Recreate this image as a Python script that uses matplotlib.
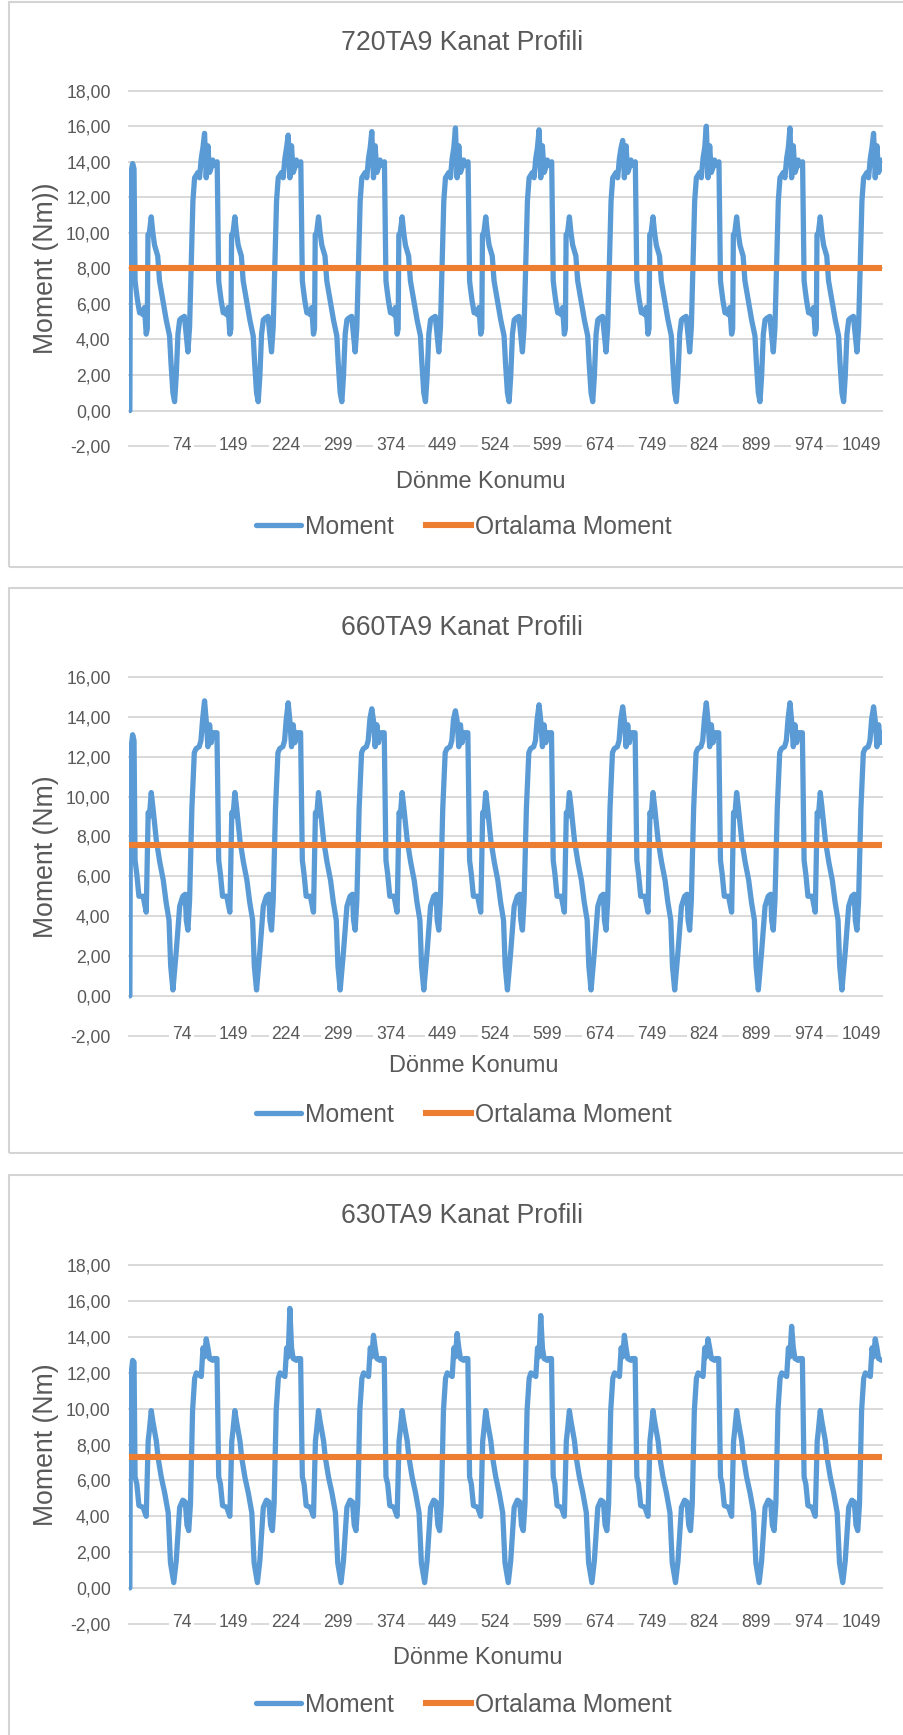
import numpy as np
import matplotlib
matplotlib.use("Agg")
import matplotlib.pyplot as plt
from matplotlib.patches import Rectangle

# ---------------- data ----------------
N_POS = 1080          # number of rotation positions (categories 0..1079)
CYCLE = 120           # positions per blade passage (one cycle of the curve)
XTICK_LABELS = [74, 149, 224, 299, 374, 449, 524, 599, 674, 749, 824, 899, 974, 1049]

START_X = [0, 1, 2, 4, 6]

# 720TA9
START_720 = [0.0, 12.0, 13.5, 13.9, 13.6]
PHASE_720 = [0, 5.3, 7.5, 9, 11, 14, 16, 18.7, 21, 23.5, 25, 26, 28, 30.7, 33, 35.5, 40,
             42.6, 47.4, 52.2, 57, 59, 61.8, 64.2, 66.5, 69, 71.5, 74, 78.3, 80.8, 83.3,
             85.7, 88, 90.5, 92.9, 97.7, 100, 102.5, 104.9, 107.2, 109.6, 112, 114.4, 117, 119]
LEVEL_720 = [13.8, 14.0, 7.3, 6.8, 6.2, 5.5, 5.6, 5.4, 5.8, 4.3, 4.6, 9.9, 10.0, 10.9, 10.0,
             9.3, 8.7, 7.3, 6.2, 5.1, 4.2, 2.7, 1.0, 0.5, 1.9, 4.3, 5.1, 5.2, 5.3, 4.3, 3.3,
             4.7, 8.1, 11.8, 13.1, 13.4, 13.1, 14.2, 14.8, 15.6, 13.1, 14.9, 13.4, 13.7, 14.1]
SPIKE_IDX_720 = 39
SPIKE_720 = [15.6, 15.5, 15.7, 15.9, 15.8, 15.2, 16.0, 15.9, 15.6]
AVG_720 = 8.05

# 660TA9
START_660 = [0.0, 11.5, 12.5, 13.1, 12.8]
PHASE_660 = [0, 5, 7.5, 10, 13, 19, 23.5, 26.3, 28, 30.7, 33, 38, 43, 48, 52, 56.2, 58.6,
             61.8, 66.5, 71.5, 76, 79.5, 81, 83.3, 85.7, 89, 92.5, 95, 99.5, 102, 104.5,
             107.2, 109.6, 112, 114.4, 116.8, 119]
LEVEL_660 = [13.2, 13.2, 6.8, 6.1, 5.0, 5.0, 4.2, 9.2, 9.0, 10.2, 9.5, 7.8, 6.7, 5.8, 4.7,
             3.8, 1.5, 0.3, 2.2, 4.5, 5.0, 5.1, 3.8, 3.3, 4.8, 9.4, 12.2, 12.4, 12.5, 12.8,
             13.9, 14.7, 13.8, 12.5, 13.6, 12.7, 13.2]
SPIKE_IDX_660 = 31
SPIKE_660 = [14.8, 14.7, 14.4, 14.3, 14.6, 14.5, 14.7, 14.7, 14.5]
AVG_660 = 7.55

# 630TA9
START_630 = [0.0, 12.1, 12.0, 12.7, 12.6]
PHASE_630 = [0, 5, 7.5, 10, 13, 19, 23.5, 26.3, 28, 30.7, 33, 38, 40.4, 45, 50, 55, 58.3,
             63, 66.5, 71.5, 76, 79.5, 82, 84.5, 87, 90, 93, 95.5, 102.5, 105, 107.2, 109.6,
             112, 114.4, 119]
LEVEL_630 = [12.8, 12.8, 6.2, 5.8, 4.6, 4.5, 4.0, 8.2, 8.8, 9.9, 9.3, 8.2, 7.3, 6.2, 5.3,
             4.2, 1.4, 0.3, 1.5, 4.5, 4.9, 4.8, 3.5, 3.2, 4.7, 9.9, 11.7, 12.0, 11.8, 13.4,
             12.9, 15.7, 13.4, 12.8, 12.7]
SPIKE_IDX_630 = 31
SPIKE_630 = [13.9, 15.6, 14.1, 14.2, 15.2, 14.1, 13.9, 14.6, 13.9]
AVG_630 = 7.30

TITLES = ["720TA9 Kanat Profili", "660TA9 Kanat Profili", "630TA9 Kanat Profili"]
YLABELS = ["Moment (Nm))", "Moment (Nm)", "Moment (Nm)"]
XLABEL = "Dönme Konumu"
LEGEND_LABELS = ["Moment", "Ortalama Moment"]


def build(start_y, phase, level, spike_idx, spikes):
    xs = list(START_X)
    ys = list(start_y)
    for c, sp in enumerate(spikes):
        lv = list(level)
        lv[spike_idx] = sp
        for p, v in zip(phase, lv):
            if c == 0 and p <= START_X[-1]:
                continue
            x = c * CYCLE + p
            if x > N_POS - 1:
                continue
            xs.append(x)
            ys.append(v)
    return xs, ys


# ---------------- style ----------------
plt.rcParams['font.family'] = ['Liberation Sans', 'DejaVu Sans']
TXT = '#595959'
GRID = '#d9d9d9'
BORDER = '#d4d4d4'
BLUE = '#5b9bd5'
ORANGE = '#ed7d31'

W, H = 904, 1735
fig = plt.figure(figsize=(W / 100, H / 100), dpi=100)
fig.patch.set_facecolor('white')


def fx(px):
    return px / W


def fy(py):
    return 1 - py / H


def panel(series, avg, ymax, title, ylabel, box, axbox, title_xy, xlabel_xy, legend_xy):
    bt, bb = box
    fig.patches.append(Rectangle((fx(8.7), fy(bb)), fx(930 - 8.7), (bb - bt) / H,
                                 transform=fig.transFigure, fill=False,
                                 edgecolor=BORDER, lw=1.5, zorder=0))
    at, ab = axbox
    ax = fig.add_axes([fx(129.5), fy(ab), fx(753), (ab - at) / H])
    ax.set_xlim(-0.5, N_POS)
    ax.set_ylim(-2, ymax)
    yt = np.arange(-2, ymax + 0.01, 2)
    ax.set_yticks(yt)
    ax.set_yticklabels([f"{v:.2f}".replace('.', ',') for v in yt])
    ax.set_xticks(XTICK_LABELS)
    ax.set_xticklabels([str(v) for v in XTICK_LABELS])
    for s in ax.spines.values():
        s.set_visible(False)
    ax.yaxis.grid(True, color=GRID, lw=1.4)
    ax.xaxis.grid(False)
    ax.set_axisbelow(True)
    ax.yaxis.set_zorder(0.5)
    ax.xaxis.set_zorder(1.0)   # x labels drawn over the -2 gridline
    for gl in ax.get_ygridlines():
        gl.set_clip_on(False)
    ax.tick_params(axis='y', length=0, pad=13.5, labelsize=12.7, labelcolor=TXT)
    ax.tick_params(axis='x', length=0, pad=-6.9, labelsize=12.7, labelcolor=TXT)
    for lbl in ax.get_xticklabels():
        lbl.set_bbox(dict(facecolor='white', edgecolor='none', pad=2.0))
    xs, ys = series
    lb, = ax.plot(xs, ys, color=BLUE, lw=3.8, solid_joinstyle='round',
                  solid_capstyle='round', zorder=3)
    lo = ax.axhline(avg, color=ORANGE, lw=4.4, zorder=4)
    fig.text(fx(title_xy[0]), fy(title_xy[1]), title, ha='center', va='center',
             fontsize=19.2, color=TXT)
    fig.text(fx(46), fy((at + ab) / 2), ylabel, rotation=90, ha='center', va='center',
             fontsize=19.2, color=TXT)
    fig.text(fx(xlabel_xy[0]), fy(xlabel_xy[1]), XLABEL, ha='center', va='center',
             fontsize=16.9, color=TXT)
    fig.legend(handles=[lb, lo], labels=LEGEND_LABELS, loc='center',
               bbox_to_anchor=(fx(legend_xy[0]), fy(legend_xy[1])), ncol=2,
               frameon=False, fontsize=17.7, handlelength=1.83, handletextpad=0.17,
               columnspacing=1.3, labelcolor=TXT, borderpad=0, borderaxespad=0)
    return ax


s720 = build(START_720, PHASE_720, LEVEL_720, SPIKE_IDX_720, SPIKE_720)
s660 = build(START_660, PHASE_660, LEVEL_660, SPIKE_IDX_660, SPIKE_660)
s630 = build(START_630, PHASE_630, LEVEL_630, SPIKE_IDX_630, SPIKE_630)

panel(s720, AVG_720, 18, TITLES[0], YLABELS[0], (2, 567), (90.7, 446.1),
      (462, 43.5), (481, 481), (464, 527))
panel(s660, AVG_660, 16, TITLES[1], YLABELS[1], (587.7, 1153), (676.9, 1035.8),
      (462, 628), (474, 1066), (464, 1115))
panel(s630, AVG_630, 18, TITLES[2], YLABELS[2], (1174.5, 1760), (1265.4, 1623.8),
      (462, 1216), (478, 1657), (464, 1705))

fig.savefig("out.png", dpi=100, facecolor='white')
